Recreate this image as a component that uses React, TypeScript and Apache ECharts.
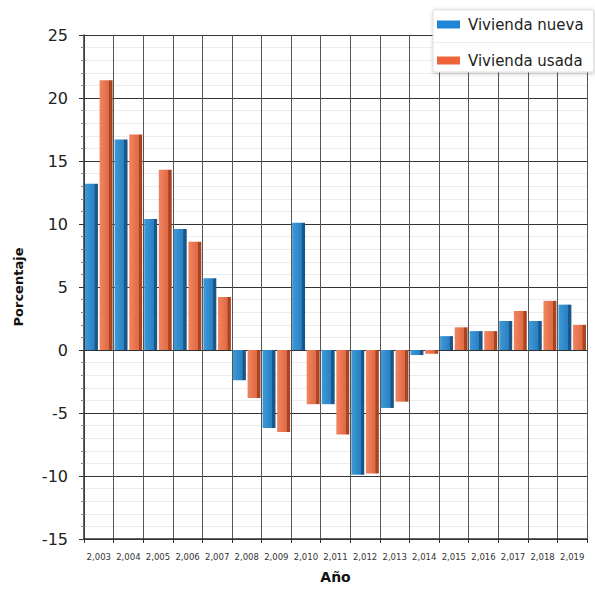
import React, { useEffect, useRef } from "react";
import * as echarts from "echarts";

const years = ["2,003", "2,004", "2,005", "2,006", "2,007", "2,008", "2,009", "2,010", "2,011", "2,012", "2,013", "2,014", "2,015", "2,016", "2,017", "2,018", "2,019"];
const nueva = [13.2, 16.7, 10.4, 9.6, 5.7, -2.4, -6.2, 10.1, -4.3, -9.9, -4.6, -0.4, 1.1, 1.5, 2.3, 2.3, 3.6];
const usada = [21.4, 17.1, 14.3, 8.6, 4.2, -3.8, -6.5, -4.3, -6.7, -9.8, -4.1, -0.3, 1.8, 1.5, 3.1, 3.9, 2.0];
const yTicks = { min: -15, max: 25, interval: 5 };

const grad = (a: string, b: string, c: string) =>
  new echarts.graphic.LinearGradient(0, 0, 1, 0, [
    { offset: 0, color: a },
    { offset: 0.72, color: b },
    { offset: 0.76, color: c },
    { offset: 1, color: c },
  ]);

export default function App() {
  const ref = useRef<HTMLDivElement>(null);
  useEffect(() => {
    if (!ref.current) return;
    const chart = echarts.init(ref.current, null, { renderer: "svg" });
    const font = "DejaVu Sans";
    chart.setOption({
      animation: false,
      grid: { left: 84, right: 8, top: 35, bottom: 45 },
      legend: {
        orient: "vertical",
        left: 433,
        top: 10,
        padding: [7, 10, 4, 4],
        itemWidth: 23,
        itemHeight: 8,
        itemGap: 21,
        backgroundColor: "#ffffff",
        borderColor: "#dddddd",
        borderWidth: 1,
        shadowColor: "rgba(0,0,0,0.25)",
        shadowBlur: 4,
        shadowOffsetX: 1,
        shadowOffsetY: 1,
        icon: "rect",
        textStyle: { fontFamily: font, fontSize: 15, color: "#222", padding: [0, 0, 0, 3] },
        data: [
          { name: "Vivienda nueva", itemStyle: { color: "#1e86d4" } },
          { name: "Vivienda usada", itemStyle: { color: "#ef6338" } },
        ],
      },
      graphic: [
        {
          type: "line",
          z: 100,
          shape: { x1: 434, y1: 42.5, x2: 595, y2: 42.5 },
          style: { stroke: "#ececec", lineWidth: 1 },
        },
      ],
      xAxis: {
        type: "category",
        data: years,
        name: "Año",
        nameLocation: "middle",
        nameGap: 31,
        nameTextStyle: { fontFamily: font, fontSize: 14, fontWeight: "bold", color: "#111" },
        axisLine: { onZero: false, lineStyle: { color: "#333", width: 1.5 } },
        axisTick: { show: true, interval: 0, length: 4, lineStyle: { color: "#333" } },
        axisLabel: { interval: 0, fontFamily: font, fontSize: 8.5, color: "#333", margin: 13 },
        splitLine: { show: true, interval: 0, lineStyle: { color: "#555", width: 1 } },
      },
      yAxis: {
        type: "value",
        min: yTicks.min,
        max: yTicks.max,
        interval: yTicks.interval,
        name: "Porcentaje",
        nameLocation: "middle",
        nameGap: 59,
        nameTextStyle: { fontFamily: font, fontSize: 13, fontWeight: "bold", color: "#111" },
        axisLine: { show: true, lineStyle: { color: "#333", width: 1.5 } },
        axisTick: { show: true, length: 5, lineStyle: { color: "#333" } },
        minorTick: { show: true, splitNumber: 5, length: 3, lineStyle: { color: "#888" } },
        minorSplitLine: { show: true, lineStyle: { color: "#ececec" } },
        axisLabel: { fontFamily: font, fontSize: 16, color: "#222", margin: 16 },
        splitLine: { show: true, lineStyle: { color: "#333", width: 1 } },
      },
      series: [
        {
          name: "Vivienda nueva",
          type: "bar",
          data: nueva,
          barGap: "13%",
          barCategoryGap: "7%",
          itemStyle: { color: grad("#3d9ad9", "#2a80c2", "#1a5688") },
        },
        {
          name: "Vivienda usada",
          type: "bar",
          data: usada,
          itemStyle: { color: grad("#f08561", "#e06a43", "#a94422") },
        },
      ],
    });
    return () => chart.dispose();
  }, []);
  return <div ref={ref} style={{ position: "absolute", left: 0, top: 0, width: 595, height: 589 }} />;
}
